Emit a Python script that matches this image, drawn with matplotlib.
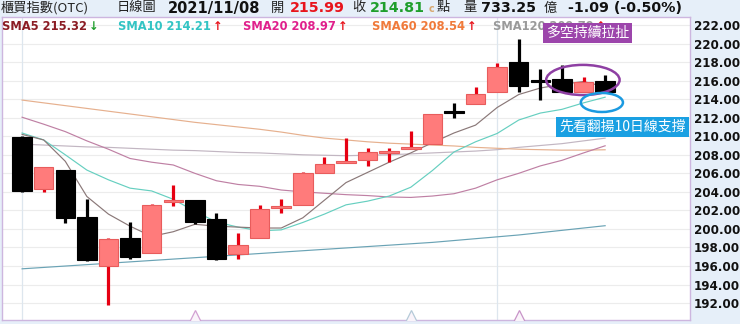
import matplotlib
matplotlib.use("Agg")
import matplotlib.pyplot as plt
from matplotlib.patches import Ellipse
import numpy as np

plt.rcParams['font.family'] = ['DejaVu Sans', 'Noto Sans CJK TC']

# ---------------- data ----------------
opens  = [209.95, 204.30, 206.36, 201.25, 196.04, 199.06, 197.44, 202.87, 203.12, 201.04,
          197.26, 199.00, 202.30, 202.58, 206.00, 207.15, 207.44, 208.22, 208.59, 209.13,
          212.60, 213.45, 214.74, 218.04, 215.85, 216.18, 214.81, 215.99]
highs  = [210.00, 206.65, 206.36, 203.20, 199.00, 200.80, 202.70, 204.74, 203.12, 201.70,
          199.53, 202.58, 203.20, 206.18, 207.73, 209.85, 208.70, 208.70, 210.57, 212.45,
          213.62, 215.35, 217.93, 220.45, 217.22, 217.69, 216.43, 216.60]
lows   = [204.00, 203.95, 200.60, 196.55, 191.80, 196.80, 197.44, 202.47, 200.53, 196.70,
          196.72, 199.00, 201.70, 202.58, 206.00, 207.15, 206.82, 207.25, 208.59, 209.13,
          212.00, 213.45, 214.74, 214.80, 213.90, 214.75, 214.75, 214.75]
closes = [204.10, 206.65, 201.15, 196.65, 198.92, 197.00, 202.58, 203.16, 200.80, 196.76,
          198.27, 202.15, 202.45, 206.07, 206.97, 207.36, 208.27, 208.44, 208.80, 212.37,
          212.50, 214.52, 217.50, 215.42, 215.80, 214.81, 215.89, 214.81]

sma5   = [210.2, 209.6, 207.3, 203.5, 201.6, 200.3, 199.2, 199.7, 200.5, 200.3,
          200.2, 200.1, 200.1, 201.2, 203.1, 205.0, 206.1, 207.2, 208.2, 209.3,
          210.35, 211.2, 213.1, 214.5, 215.2, 215.6, 215.9, 215.32]
sma10  = [210.35, 209.6, 208.0, 206.35, 205.3, 204.4, 204.1, 203.2, 201.9, 200.75,
          200.2, 199.8, 199.9, 200.7, 201.6, 202.6, 203.0, 203.55, 204.5, 206.3,
          208.3, 209.4, 210.3, 211.75, 212.5, 212.9, 213.6, 214.21]
sma20  = [212.05, 211.3, 210.5, 209.5, 208.6, 207.6, 207.2, 206.9, 206.0, 205.2,
          204.8, 204.6, 204.2, 204.0, 203.85, 203.7, 203.6, 203.45, 203.4, 203.55,
          203.8, 204.4, 205.3, 206.0, 206.8, 207.4, 208.2, 208.97]
sma60  = [213.9, 213.6, 213.3, 213.0, 212.7, 212.4, 212.1, 211.8, 211.5, 211.25,
          211.0, 210.75, 210.45, 210.1, 209.8, 209.6, 209.4, 209.25, 209.15, 209.05,
          208.95, 208.8, 208.7, 208.6, 208.55, 208.5, 208.5, 208.54]
sma120 = [209.15, 209.05, 208.95, 208.85, 208.8, 208.7, 208.6, 208.5, 208.45, 208.35,
          208.25, 208.2, 208.1, 208.0, 207.95, 207.9, 207.95, 208.0, 208.1, 208.2,
          208.3, 208.4, 208.55, 208.8, 209.0, 209.2, 209.5, 209.79]
sma240 = [195.7, 195.85, 196.0, 196.15, 196.3, 196.45, 196.6, 196.75, 196.9, 197.05,
          197.2, 197.35, 197.5, 197.65, 197.8, 197.95, 198.1, 198.25, 198.4, 198.55,
          198.75, 198.95, 199.15, 199.35, 199.6, 199.85, 200.1, 200.35]

yticks = [192, 194, 196, 198, 200, 202, 204, 206, 208, 210, 212, 214, 216, 218, 220, 222]
month_lines = [0, 22]
markers_idx = [8, 18, 23]

# ---------------- figure ----------------
W, H = 740, 324
fig = plt.figure(figsize=(W / 100, H / 100), dpi=100)
fig.patch.set_facecolor('#e6eff9')
ax = fig.add_axes([2 / W, 4 / H, 688 / W, 303 / H])
ax.set_facecolor('white')

n = len(opens)
x = np.arange(n)
o = np.array(opens); c = np.array(closes); hi = np.array(highs); lo = np.array(lows)
up = c >= o

# grid
for v in yticks:
    ax.axhline(v, color='#ececec', lw=0.8, zorder=0)
for m in month_lines:
    ax.axvline(m, color='#dde6ee', lw=0.9, zorder=0)

# moving averages
ax.plot(x, sma240, color='#6aa3b5', lw=0.85, zorder=1)
ax.plot(x, sma120, color='#c2b6c2', lw=0.85, zorder=1)
ax.plot(x, sma60, color='#e6b08e', lw=0.85, zorder=1)
ax.plot(x, sma20, color='#bf80a4', lw=0.85, zorder=1)
ax.plot(x, sma10, color='#66cfc0', lw=0.85, zorder=1)
ax.plot(x, sma5, color='#8a7878', lw=0.85, zorder=1)

# candles
wick_col = np.where(up, '#e60012', '#000000')
ax.vlines(x, lo, hi, colors=list(wick_col), lw=2.3, zorder=2)
body_h = np.maximum(np.abs(c - o), 0.22)
body_b = np.minimum(o, c)
ax.bar(x[up], body_h[up], bottom=body_b[up], width=0.9, color='#ff7b7b',
       edgecolor='#e85c5c', lw=0.8, zorder=3)
ax.bar(x[~up], body_h[~up], bottom=body_b[~up], width=0.9, color='#000000',
       edgecolor='#000000', lw=0.8, zorder=3)

# bottom markers (peeking above the lower border)
mcols = ['#d2a0d2', '#b5cad8', '#c894c8']
for i, mc in zip(markers_idx, mcols):
    ax.plot([i], [190.3], marker='^', ms=13, mfc='#faf4fa', mec=mc, mew=0.9,
            zorder=4, clip_on=True)

ax.set_xlim(-0.93, 30.93)
ax.set_ylim(190.18, 222.86)
ax.set_xticks([])
ax.yaxis.tick_right()
ax.set_yticks(yticks)
ax.set_yticklabels([f'{v:.2f}' for v in yticks], fontsize=8.6, fontweight='bold')
ax.tick_params(axis='y', length=0, pad=3, colors='#111111')
for s in ax.spines.values():
    s.set_color('#cdb6df')
    s.set_linewidth(1.0)

# annotations
ax.add_patch(Ellipse((25.97, 216.07), 3.4, 3.25, fill=False, edgecolor='#8e3fa3',
                     lw=1.8, zorder=5))
ax.add_patch(Ellipse((26.85, 213.64), 1.95, 2.05, fill=False, edgecolor='#1b9ae0',
                     lw=1.8, zorder=5))


def ftxt(px, py, s, **kw):
    return fig.text(px / W, 1 - py / H, s, va='center', ha='left', **kw)


cjk = ['Noto Sans CJK TC', 'DejaVu Sans']
# header row 1
ftxt(1, 8, '櫃買指數(OTC)', fontsize=9.5, family=cjk, color='#222222')
ftxt(117, 8, '日線圖', fontsize=9.5, family=cjk, color='#222222')
ftxt(168, 8, '2021/11/08', fontsize=10.5, fontweight='bold', color='#111111')
ftxt(271, 8, '開', fontsize=9.5, family=cjk, color='#222222')
ftxt(290, 8, '215.99', fontsize=10.3, fontweight='bold', color='#e8141c')
ftxt(352, 8, '收', fontsize=9.5, family=cjk, color='#222222')
ftxt(370, 8, '214.81', fontsize=10.3, fontweight='bold', color='#1f9e2c')
ftxt(429, 9, 'c', fontsize=7, fontweight='bold', color='#d8a870')
ftxt(437, 8, '點', fontsize=9.5, family=cjk, color='#222222')
ftxt(463, 8, '量', fontsize=9.5, family=cjk, color='#222222')
ftxt(481, 8, '733.25', fontsize=10.3, fontweight='bold', color='#111111')
ftxt(544, 8, '億', fontsize=9.5, family=cjk, color='#222222')
ftxt(568, 8, '-1.09 (-0.50%)', fontsize=10.3, fontweight='bold', color='#111111')

# header row 2 (SMA values) with arrows placed right after each label
fig.canvas.draw()
renderer = fig.canvas.get_renderer()
sma_labels = [(2, 'SMA5 215.32', '#8b1c24', '↓', '#1f9e2c'),
              (118, 'SMA10 214.21', '#33c4c4', '↑', '#e8141c'),
              (243, 'SMA20 208.97', '#e0208c', '↑', '#e8141c'),
              (372, 'SMA60 208.54', '#f07a3a', '↑', '#e8141c'),
              (493, 'SMA120 209.79', '#9a9a9a', '↑', '#e8141c')]
for px, s, col, arr, acol in sma_labels:
    t = ftxt(px, 26, s, fontsize=8.3, fontweight='bold', color=col)
    bb = t.get_window_extent(renderer)
    ftxt(bb.x1 + 2, 26, arr, fontsize=8.3, fontweight='bold', color=acol)

# callout boxes
ftxt(546, 33, '多空持續拉扯', fontsize=10, family=cjk, color='white', zorder=10,
     bbox=dict(boxstyle='square,pad=0.2', fc='#9c45ab', ec='none'))
ftxt(559, 127, '先看翻揚10日線支撐', fontsize=10, family=cjk, color='white', zorder=10,
     bbox=dict(boxstyle='square,pad=0.22', fc='#1aa0e2', ec='none'))

fig.savefig('out.png', dpi=100, facecolor=fig.get_facecolor())
